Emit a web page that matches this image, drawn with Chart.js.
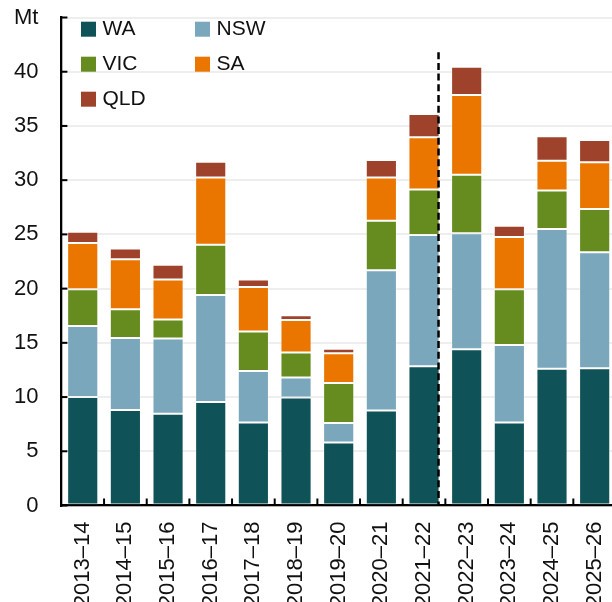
<!DOCTYPE html>
<html>
<head>
<meta charset="utf-8">
<script src="https://cdn.jsdelivr.net/npm/chart.js@4"></script>
<style>
  html, body { margin: 0; padding: 0; background: #fff; overflow: hidden; }
  #wrap { position: relative; width: 616px; height: 602px; }
</style>
</head>
<body>
<div id="wrap"><canvas id="chart"></canvas></div>
<script>
const years = ["2013–14", "2014–15", "2015–16", "2016–17", "2017–18", "2018–19", "2019–20",
  "2020–21", "2021–22", "2022–23", "2023–24", "2024–25", "2025–26"];
const wa  = [10.0, 8.8, 8.45, 9.55, 7.65, 9.95, 5.8, 8.75, 12.85, 14.4, 7.65, 12.6, 12.65];
const nsw = [6.55, 6.65, 6.95, 9.85, 4.75, 1.85, 1.8, 12.95, 12.1, 10.7, 7.15, 12.9, 10.7];
const vic = [3.4, 2.65, 1.75, 4.65, 3.65, 2.3, 3.7, 4.55, 4.2, 5.4, 5.15, 3.55, 4.0];
const sa  = [4.25, 4.6, 3.7, 6.2, 4.1, 3.0, 2.75, 4.0, 4.8, 7.35, 4.8, 2.75, 4.3];
const qld = [1.05, 1.0, 1.35, 1.45, 0.7, 0.45, 0.4, 1.6, 2.15, 2.6, 1.05, 2.25, 2.05];

const FONT = "'Liberation Sans', Arial, sans-serif";
const dividerAt = 8.34;   // category index of dashed forecast line
const dividerTop = 41.8;

const extras = {
  id: "extras",
  afterDatasetsDraw(chart) {
    const ctx = chart.ctx;
    const x = chart.scales.x, y = chart.scales.y;
    const area = chart.chartArea;
    const step = x.getPixelForValue(1) - x.getPixelForValue(0);
    ctx.save();
    // dashed divider
    const dx = x.getPixelForValue(8) + (dividerAt - 8) * step;
    ctx.strokeStyle = "#000";
    ctx.lineWidth = 2.5;
    ctx.setLineDash([7, 3.7]);
    ctx.beginPath();
    ctx.moveTo(dx, y.getPixelForValue(dividerTop));
    ctx.lineTo(dx, area.bottom);
    ctx.stroke();
    ctx.setLineDash([]);
    // inward ticks
    ctx.lineWidth = 2;
    y.ticks.forEach(t => {
      const py = y.getPixelForValue(t.value);
      ctx.beginPath();
      ctx.moveTo(area.left, py);
      ctx.lineTo(area.left + 6, py);
      ctx.stroke();
    });
    for (let i = 1; i < years.length; i++) {
      const px = x.getPixelForValue(i) - step / 2;
      ctx.beginPath();
      ctx.moveTo(px, area.bottom);
      ctx.lineTo(px, area.bottom - 7);
      ctx.stroke();
    }
    // legend, two columns
    ctx.font = "21px " + FONT;
    ctx.textBaseline = "middle";
    ctx.textAlign = "left";
    chart.data.datasets.forEach((ds, i) => {
      const col = i % 2, row = Math.floor(i / 2);
      const sx = 81 + col * 114, sy = 21.7 + row * 35;
      ctx.fillStyle = ds.backgroundColor;
      ctx.fillRect(sx, sy, 15, 15);
      ctx.fillStyle = "#111";
      ctx.fillText(ds.label, sx + 21.5, sy + 8);
    });
    ctx.restore();
  }
};

const mk = (label, data, color) => ({
  label, data, backgroundColor: color,
  borderColor: "rgba(255,255,255,0.35)", borderWidth: 1, borderSkipped: false
});

new Chart(document.getElementById("chart"), {
  type: "bar",
  data: {
    labels: years,
    datasets: [
      mk("WA", wa, "#0f5257"),
      mk("NSW", nsw, "#7ba7bc"),
      mk("VIC", vic, "#668c1f"),
      mk("SA", sa, "#ea7600"),
      mk("QLD", qld, "#9e422b")
    ]
  },
  options: {
    responsive: true,
    maintainAspectRatio: false,
    animation: false,
    layout: { padding: { top: 17.5, right: 0, left: 0, bottom: 0 } },
    plugins: { legend: { display: false }, tooltip: { enabled: false } },
    datasets: { bar: { categoryPercentage: 1, barPercentage: 0.73 } },
    scales: {
      x: {
        stacked: true,
        grid: { display: false, drawTicks: false },
        border: { display: true, color: "#000", width: 2.3 },
        ticks: {
          color: "#111", font: { family: FONT, size: 22 },
          minRotation: 90, maxRotation: 90, padding: 16, autoSkip: false
        },
        afterFit(s) { s.height = 96.5; s.paddingLeft = 0; s.paddingRight = 0; }
      },
      y: {
        stacked: true,
        min: 0, max: 45,
        grid: { color: "#eeeeee", lineWidth: 2, drawTicks: false },
        border: { display: true, color: "#000", width: 2.3 },
        ticks: {
          stepSize: 5, color: "#111", font: { family: FONT, size: 22 }, padding: 23,
          callback: v => v === 45 ? "Mt" : v
        },
        afterFit(s) { s.width = 61.4; s.paddingTop = 0; s.paddingBottom = 0; }
      }
    }
  },
  plugins: [extras]
});
</script>
</body>
</html>
